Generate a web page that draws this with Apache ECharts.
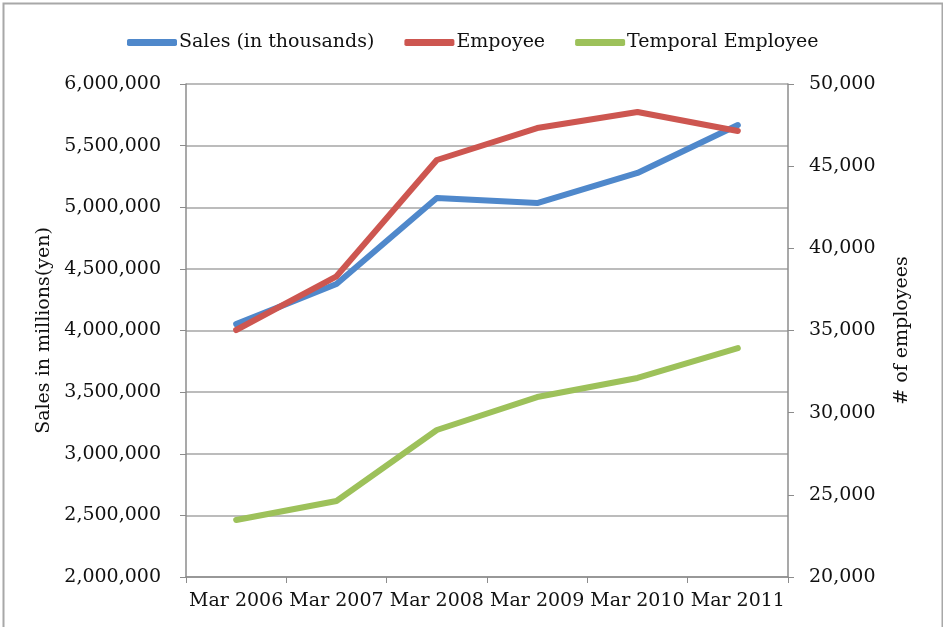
<!DOCTYPE html>
<html>
<head>
<meta charset="utf-8">
<script src="https://cdn.jsdelivr.net/npm/echarts@6/dist/echarts.min.js"></script>
<style>html,body{margin:0;padding:0;background:#fff}#c{width:943px;height:627px}</style>
</head>
<body>
<div id="c"></div>
<script>
const categories = ['Mar 2006', 'Mar 2007', 'Mar 2008', 'Mar 2009', 'Mar 2010', 'Mar 2011'];
const sales = [4052000, 4377000, 5075000, 5034000, 5278000, 5667000];
const employees = [35030, 38300, 45375, 47320, 48300, 47140];
const temporalEmployees = [23470, 24625, 28945, 30950, 32110, 33935];
const leftTicks = { min: 2000000, max: 6000000, interval: 500000 };
const rightTicks = { min: 20000, max: 50000, interval: 5000 };

const FONT = 'DejaVu Serif';
const FS = 19;
const chart = echarts.init(document.getElementById('c'), null, { renderer: 'canvas' });
const fmt = v => v.toLocaleString('en-US');
chart.setOption({
  backgroundColor: '#fff',
  animation: false,
  graphic: [{
    type: 'rect', left: 1, top: 1, silent: true,
    shape: { width: 939, height: 660 },
    style: { fill: 'none', stroke: '#a8a8a8', lineWidth: 2 }
  }],
  legend: {
    left: 122, top: 28,
    icon: 'roundRect', itemWidth: 50, itemHeight: 7, itemGap: 30,
    textStyle: { fontFamily: FONT, fontSize: FS, color: '#111', padding: [0, 0, 0, -3] },
    data: ['Sales (in thousands)', 'Empoyee', 'Temporal Employee']
  },
  grid: { left: 186, right: 155, top: 84, bottom: 50 },
  xAxis: {
    type: 'category', data: categories, boundaryGap: true,
    axisLine: { lineStyle: { color: '#8c8c8c', width: 1.5 } },
    axisTick: { show: true, length: 6, lineStyle: { color: '#8c8c8c' } },
    axisLabel: { fontFamily: FONT, fontSize: FS, color: '#111', margin: 15, interval: 0 }
  },
  yAxis: [{
    type: 'value', position: 'left', ...leftTicks,
    name: 'Sales in millions(yen)', nameLocation: 'middle', nameGap: 131, nameRotate: 90,
    nameTextStyle: { fontFamily: FONT, fontSize: FS, color: '#111' },
    axisLine: { show: true, lineStyle: { color: '#8c8c8c', width: 1.5 } },
    axisTick: { show: true, length: 6, lineStyle: { color: '#8c8c8c' } },
    splitLine: { show: true, lineStyle: { color: '#a6a6a6', width: 1.5 } },
    axisLabel: { fontFamily: FONT, fontSize: FS, color: '#111', margin: 25, formatter: fmt }
  }, {
    type: 'value', position: 'right', ...rightTicks,
    name: '# of employees', nameLocation: 'middle', nameGap: 105, nameRotate: 90,
    nameTextStyle: { fontFamily: FONT, fontSize: FS, color: '#111' },
    axisLine: { show: true, lineStyle: { color: '#8c8c8c', width: 1.5 } },
    axisTick: { show: true, length: 6, lineStyle: { color: '#8c8c8c' } },
    splitLine: { show: false },
    axisLabel: { fontFamily: FONT, fontSize: FS, color: '#111', margin: 21, formatter: fmt }
  }],
  series: [{
    name: 'Sales (in thousands)', type: 'line', yAxisIndex: 0, data: sales,
    showSymbol: false, symbol: 'none',
    lineStyle: { color: '#4F88CB', width: 6, cap: 'round', join: 'round' },
    itemStyle: { color: '#4F88CB' }
  }, {
    name: 'Empoyee', type: 'line', yAxisIndex: 1, data: employees,
    showSymbol: false, symbol: 'none',
    lineStyle: { color: '#CD5650', width: 6, cap: 'round', join: 'round' },
    itemStyle: { color: '#CD5650' }
  }, {
    name: 'Temporal Employee', type: 'line', yAxisIndex: 1, data: temporalEmployees,
    showSymbol: false, symbol: 'none',
    lineStyle: { color: '#9DC15A', width: 6, cap: 'round', join: 'round' },
    itemStyle: { color: '#9DC15A' }
  }]
});
</script>
</body>
</html>
